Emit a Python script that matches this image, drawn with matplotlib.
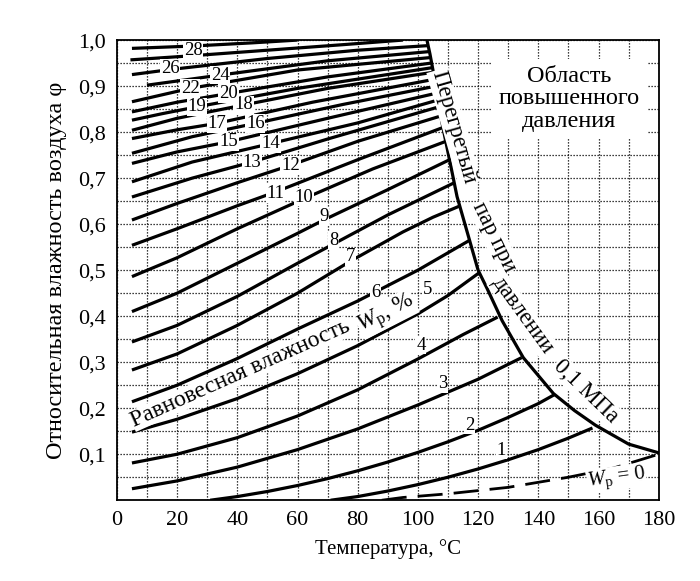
import numpy as np
import matplotlib
matplotlib.use("Agg")
import matplotlib.pyplot as plt

plt.rcParams['font.family'] = ['Liberation Serif', 'DejaVu Serif']
plt.rcParams['mathtext.fontset'] = 'custom'
plt.rcParams['mathtext.rm'] = 'Liberation Serif'
plt.rcParams['mathtext.it'] = 'Liberation Serif:italic'

# equilibrium moisture curves, (temperature C, relative humidity)
w1 = [(71, 0.0), (80, 0.008), (90, 0.02), (100, 0.034), (110, 0.05), (120, 0.068), (130, 0.088), (140, 0.11), (150, 0.135), (158, 0.157)]
w2 = [(31, 0.0), (40, 0.008), (50, 0.019), (60, 0.032), (70, 0.047), (80, 0.064), (90, 0.083), (100, 0.104), (110, 0.127), (120, 0.152), (130, 0.18), (140, 0.21), (145.5, 0.23)]
w3 = [(5, 0.025), (20, 0.042), (40, 0.072), (60, 0.11), (80, 0.155), (100, 0.207), (120, 0.263), (134.5, 0.31)]
w4 = [(5, 0.081), (20, 0.1), (40, 0.136), (60, 0.183), (80, 0.24), (100, 0.307), (115, 0.36), (126.5, 0.398)]
w5 = [(5, 0.148), (20, 0.176), (40, 0.221), (60, 0.275), (80, 0.336), (100, 0.405), (110, 0.445), (120.5, 0.495)]
w6 = [(5, 0.214), (20, 0.25), (40, 0.308), (60, 0.372), (80, 0.433), (100, 0.5), (117.2, 0.565)]
w7 = [(5, 0.283), (20, 0.318), (40, 0.38), (60, 0.45), (77.7, 0.52), (95, 0.583), (105, 0.615), (114.1, 0.64)]
w8 = [(5, 0.344), (20, 0.38), (40, 0.443), (60, 0.515), (72, 0.557), (90, 0.62), (112.1, 0.69)]
w9 = [(5, 0.41), (20, 0.45), (40, 0.515), (60, 0.58), (69, 0.61), (90, 0.675), (110.5, 0.74)]
w10 = [(5, 0.486), (20, 0.527), (40, 0.59), (62, 0.655), (85, 0.72), (109.3, 0.78)]
w11 = [(5, 0.554), (20, 0.59), (40, 0.64), (52.7, 0.67), (80, 0.74), (108.3, 0.81)]
w12 = [(5, 0.609), (20, 0.645), (40, 0.69), (57.7, 0.728), (80, 0.78), (107.6, 0.835)]
w13 = [(5, 0.659), (25, 0.7), (44.9, 0.735), (70, 0.785), (107, 0.855)]
w14 = [(5, 0.692), (25, 0.735), (51, 0.775), (80, 0.82), (106.8, 0.87)]
w15 = [(5, 0.732), (20, 0.757), (37.1, 0.779), (70, 0.83), (106.4, 0.885)]
w16 = [(5, 0.754), (25, 0.79), (46, 0.819), (75, 0.86), (106, 0.9)]
w17 = [(5, 0.786), (20, 0.805), (33.2, 0.819), (65, 0.865), (105.6, 0.915)]
w18 = [(5, 0.804), (20, 0.83), (42.1, 0.859), (70, 0.895), (105, 0.93)]
w19 = [(5, 0.826), (15, 0.84), (26.6, 0.855), (60, 0.895), (104.7, 0.94)]
w20 = [(5, 0.844), (20, 0.865), (37.1, 0.884), (70, 0.92), (104.4, 0.95)]
w22 = [(5, 0.866), (24.3, 0.895), (60, 0.935), (104.1, 0.962)]
w24 = [(10, 0.902), (34.3, 0.924), (70, 0.955), (103.8, 0.975)]
w26 = [(5, 0.925), (17.7, 0.936), (50, 0.96), (80, 0.978), (103.4, 0.988)]
w27 = [(4.5, 0.957), (25, 0.966), (50, 0.978), (75, 0.99), (95, 1.0)]  # no number printed
w28 = [(5, 0.982), (25, 0.987), (45, 0.994), (60, 1.0)]

# superheated steam boundary at 0.1 MPa
sat_t = [103, 104, 106, 108, 110.5, 113, 116.5, 120, 123, 128, 135, 145, 152, 159, 170, 180]
sat_phi = [1.0, 0.97, 0.9, 0.82, 0.74, 0.66, 0.58, 0.5, 0.46, 0.39, 0.31, 0.232, 0.195, 0.163, 0.122, 0.103]

# Wp = 0 line
zero_t = [88, 95, 110, 130, 150, 165, 180]
zero_phi = [0.0, 0.006, 0.014, 0.028, 0.05, 0.07, 0.1]

curves = [w1, w2, w3, w4, w5, w6, w7, w8, w9, w10, w11, w12, w13, w14, w15,
          w16, w17, w18, w19, w20, w22, w24, w26, w27, w28]

# where the numbers sit
label_pos = {1: (127.7, 0.109), 2: (117.1, 0.163), 3: (108.2, 0.254), 4: (101, 0.337),
             5: (103.2, 0.457), 6: (86, 0.452), 7: (77.7, 0.529), 8: (72.1, 0.565),
             9: (68.8, 0.616), 10: (62.1, 0.659), 11: (52.7, 0.667), 12: (57.7, 0.728),
             13: (44.9, 0.735), 14: (51, 0.775), 15: (37.1, 0.779), 16: (46, 0.819),
             17: (33.2, 0.819), 18: (42.1, 0.859), 19: (26.6, 0.855), 20: (37.1, 0.884),
             22: (24.3, 0.895), 24: (34.3, 0.924), 26: (17.7, 0.938), 28: (25.4, 0.978)}

fig = plt.figure(figsize=(7, 5.81), dpi=100)
ax = fig.add_axes([0.167, 0.139, 0.774, 0.792])

ax.set_xlim(0, 180)
ax.set_ylim(0, 1.0)
ax.set_xticks(range(0, 181, 20))
ax.set_yticks(np.arange(1, 11) / 10)
ax.set_yticklabels([f"{v / 10:.1f}".replace(".", ",") for v in range(1, 11)])
ax.set_xticks(range(0, 181, 10), minor=True)
ax.set_yticks(np.arange(0, 21) * 0.05, minor=True)
ax.tick_params(which='both', length=0, labelsize=16, pad=8)
ax.grid(which='both', color='black', linestyle=(0, (1, 1.4)), linewidth=0.9)
for s in ax.spines.values():
    s.set_linewidth(1.3)

for pts in curves:
    t, phi = zip(*pts)
    ax.plot(t, phi, color='black', lw=2.3, solid_capstyle='butt', solid_joinstyle='round', zorder=3)

ax.plot(sat_t, sat_phi, color='black', lw=2.3, solid_joinstyle='round', zorder=3)
ax.plot(zero_t, zero_phi, color='black', lw=2.0, dashes=(9, 4), zorder=3)

box = dict(facecolor='white', edgecolor='none', pad=0.6)
for num, (x, y) in label_pos.items():
    ax.text(x, y, str(num), fontsize=13.5, ha='center', va='center', bbox=box, zorder=5)

tight = dict(facecolor='white', edgecolor='none', pad=0.1)
ax.text(41, 0.275, 'Равновесная влажность', fontsize=17, rotation=24,
        rotation_mode='anchor', ha='center', va='center', bbox=tight, zorder=4)
ax.text(89.5, 0.405, r'$W_{\mathrm{р}}$, %', fontsize=17, rotation=27,
        rotation_mode='anchor', ha='center', va='center', bbox=tight, zorder=4)

# curved caption along the steam boundary, word by word
cap = dict(fontsize=16.5, rotation_mode='anchor', ha='center', va='center', bbox=box, zorder=4)
ax.text(111.9, 0.811, 'Перегретый', rotation=-74, **cap)
ax.text(125.3, 0.572, 'пар при', rotation=-64, **cap)
ax.text(134.8, 0.402, 'давлении', rotation=-54, **cap)
ax.text(155.8, 0.236, '0,1 МПа', rotation=-44, **cap)

ax.text(150.3, 0.872, 'Область\nповышенного\nдавления', fontsize=17.5, ha='center',
        va='center', linespacing=1.1, zorder=4,
        bbox=dict(facecolor='white', edgecolor='none', pad=5))

ax.text(166, 0.048, r'$W_{\mathrm{р}}$ = 0', fontsize=15, ha='center', va='center',
        rotation=8, bbox=dict(facecolor='white', edgecolor='none', pad=0.2), zorder=4)

ax.set_xlabel('Температура, °C', fontsize=15, labelpad=6)
ax.set_ylabel('Относительная влажность воздуха φ', fontsize=17.5, labelpad=8)

fig.savefig('out.png', dpi=100)
